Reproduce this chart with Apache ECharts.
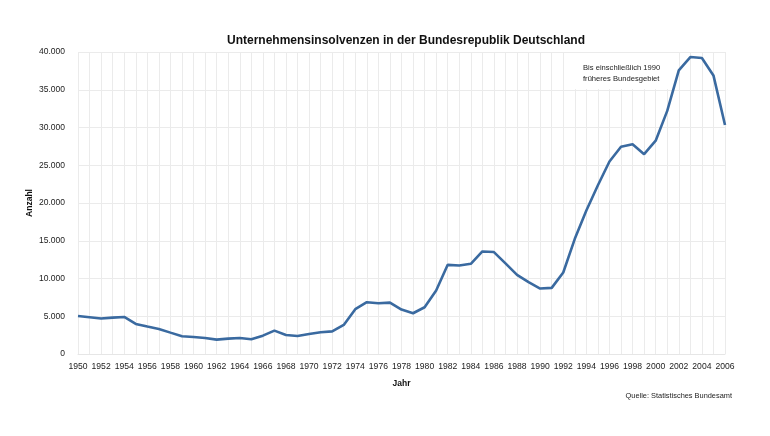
<!DOCTYPE html>
<html>
<head>
<meta charset="utf-8">
<script src="https://cdn.jsdelivr.net/npm/echarts@6/dist/echarts.min.js"></script>
<style>html,body{margin:0;padding:0;background:#fff;}#c{width:770px;height:436px;}</style>
</head>
<body>
<div id="c"></div>
<script>
var years = [];
for (var y = 1950; y <= 2006; y++) years.push(String(y));
var insolvenzen = [
  5040, 4870, 4700, 4820, 4910, 3980, 3630, 3320, 2830, 2350,
  2260, 2120, 1900, 2040, 2120, 1950, 2430, 3100, 2520, 2390,
  2650, 2880, 3000, 3850, 5930, 6860, 6730, 6810, 5880, 5400,
  6190, 8410, 11810, 11730, 11950, 13580, 13500, 12000, 10490, 9510,
  8670, 8760, 10800, 15250, 19000, 22350, 25500, 27450, 27780, 26470,
  28250, 32200, 37570, 39330, 39200, 36900, 30330
];
var titleText = 'Unternehmensinsolvenzen in der Bundesrepublik Deutschland';
var noteLines = ['Bis einschließlich 1990', 'früheres Bundesgebiet'];
var sourceText = 'Quelle: Statistisches Bundesamt';

var font = '"Liberation Sans", Arial, Helvetica, sans-serif';
var chart = echarts.init(document.getElementById('c'), null, {renderer: 'canvas'});
chart.setOption({
  backgroundColor: '#ffffff',
  animation: false,
  textStyle: {fontFamily: font},
  title: {
    text: titleText,
    left: 401, top: 30, textAlign: 'center',
    textStyle: {fontFamily: font, fontSize: 12, fontWeight: 'bold', color: '#111'}
  },
  grid: {left: 78, right: 45, top: 52, bottom: 82, containLabel: false},
  xAxis: {
    type: 'category',
    data: years,
    boundaryGap: false,
    name: 'Jahr',
    nameLocation: 'middle',
    nameGap: 25,
    nameMoveOverlap: false,
    nameTextStyle: {fontFamily: font, fontSize: 8.5, fontWeight: 'bold', color: '#111'},
    axisLine: {show: true, lineStyle: {color: '#e6e6e6'}},
    axisTick: {show: false},
    axisLabel: {interval: 1, fontFamily: font, fontSize: 8.6, color: '#222', margin: 8},
    splitLine: {show: true, interval: 0, lineStyle: {color: '#ebebeb', width: 1}}
  },
  yAxis: {
    type: 'value',
    min: 0, max: 40000, interval: 5000,
    name: 'Anzahl',
    nameLocation: 'middle',
    nameGap: 44,
    nameMoveOverlap: false,
    nameRotate: 90,
    nameTextStyle: {fontFamily: font, fontSize: 8.5, fontWeight: 'bold', color: '#111'},
    axisLine: {show: false},
    axisTick: {show: false},
    axisLabel: {
      fontFamily: font, fontSize: 8.5, color: '#222', margin: 13,
      formatter: function (v) { return v === 0 ? '0' : String(v).replace(/\B(?=(\d{3})+(?!\d))/g, '.'); }
    },
    splitLine: {show: true, lineStyle: {color: '#ebebeb', width: 1}}
  },
  series: [{
    type: 'line',
    data: insolvenzen,
    symbol: 'none',
    smooth: false,
    lineStyle: {color: '#3a6aa0', width: 2.6},
    z: 3
  }],
  graphic: [
    {type: 'rect', left: 567, top: 53, shape: {width: 101, height: 36}, style: {fill: '#ffffff'}, z: 1},
    {type: 'text', left: 583, top: 62, z: 2,
     style: {text: noteLines.join('\n'), font: '7.6px ' + font, fill: '#222', lineHeight: 11}},
    {type: 'text', right: 38, top: 392, z: 2,
     style: {text: sourceText, font: '7.4px ' + font, fill: '#222'}}
  ]
});
</script>
</body>
</html>
